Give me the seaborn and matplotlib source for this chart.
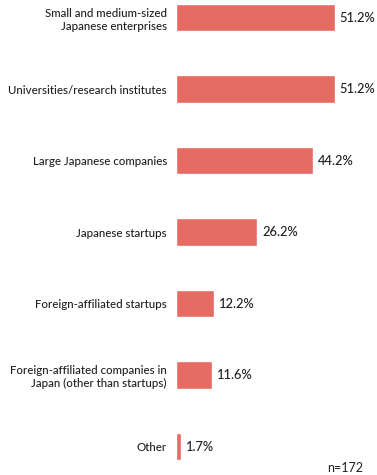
import matplotlib
matplotlib.use("Agg")
import matplotlib.pyplot as plt
import seaborn as sns
import pandas as pd

categories = [
    "Small and medium-sized\nJapanese enterprises",
    "Universities/research institutes",
    "Large Japanese companies",
    "Japanese startups",
    "Foreign-affiliated startups",
    "Foreign-affiliated companies in\nJapan (other than startups)",
    "Other",
]
values = [51.2, 51.2, 44.2, 26.2, 12.2, 11.6, 1.7]
value_labels = ["51.2%", "51.2%", "44.2%", "26.2%", "12.2%", "11.6%", "1.7%"]
note = "n=172"

sns.set_style("white")
plt.rcParams['font.family'] = ['Lato', 'DejaVu Sans']

df = pd.DataFrame({"cat": categories, "val": values})

fig = plt.figure(figsize=(3.77, 4.75), dpi=100)
ax = fig.add_axes([176/377, 0, 200/377, 1])
sns.barplot(data=df, x="val", y="cat", orient="h", color="#e66b63",
            saturation=1, width=0.38, ax=ax)
ax.set_xlim(0, 64.5)
ax.set_ylim(6.398, -0.245)
ax.set_xlabel("")
ax.set_ylabel("")
ax.set_xticks([])
for s in ax.spines.values():
    s.set_visible(False)
ax.tick_params(axis="y", length=0, pad=6.5, labelsize=8.3, labelcolor="#231f20")
for lbl in ax.get_yticklabels():
    lbl.set_horizontalalignment("right")
    lbl.set_multialignment("right")
    lbl.set_linespacing(1.25)
    lbl.set_fontweight("medium")
for i, (v, t) in enumerate(zip(values, value_labels)):
    ax.text(v + 1.6, i, t, va="center", ha="left", fontsize=9.3,
            color="#231f20", fontweight="medium")
fig.text(327/377, 1 - 468/475, note, ha="left", va="center", fontsize=9, color="#231f20")
fig.savefig("out.png", dpi=100)
